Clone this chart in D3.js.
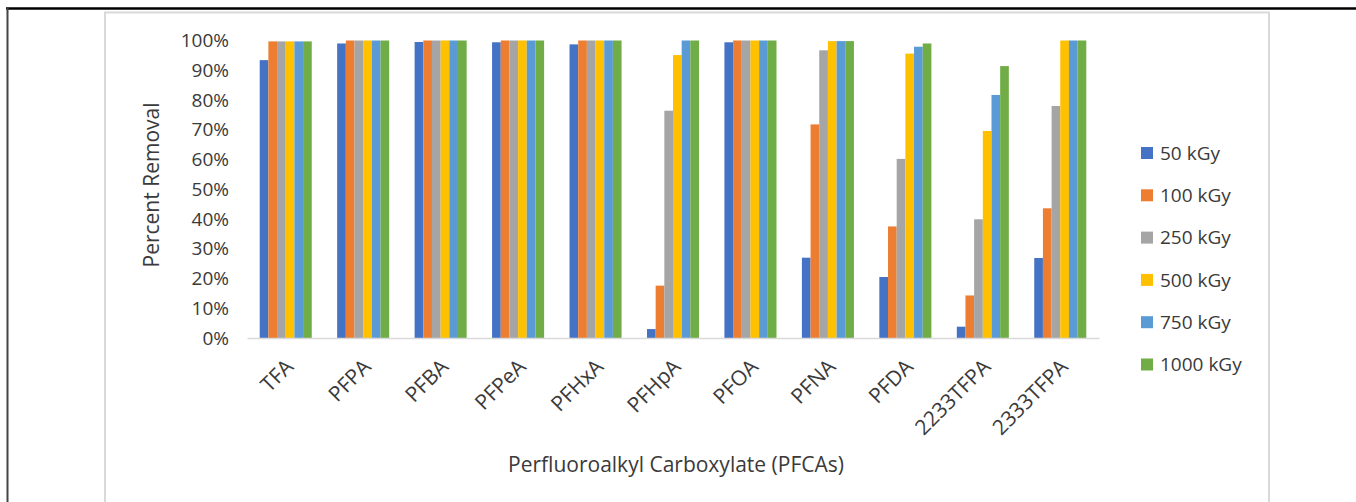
<!DOCTYPE html>
<html>
<head>
<meta charset="utf-8">
<script src="https://cdn.jsdelivr.net/npm/d3@7"></script>
<style>
  body { margin: 0; background: #fff; }
  svg { display: block; font-family: "Open Sans", sans-serif; }
</style>
</head>
<body>
<svg id="chart" width="1356" height="502"></svg>
<script>
// data (percent removal)
var categories = ["TFA", "PFPA", "PFBA", "PFPeA", "PFHxA", "PFHpA", "PFOA", "PFNA", "PFDA", "2233TFPA", "2333TFPA"];
var doses = ["50 kGy", "100 kGy", "250 kGy", "500 kGy", "750 kGy", "1000 kGy"];
var kGy50   = [93.4, 99.0, 99.5, 99.4, 98.7, 3.0, 99.4, 27.0, 20.5, 3.8, 26.9];
var kGy100  = [99.7, 100, 100, 100, 100, 17.6, 100, 71.8, 37.5, 14.3, 43.6];
var kGy250  = [99.7, 100, 100, 100, 100, 76.4, 100, 96.7, 60.2, 39.9, 78.0];
var kGy500  = [99.7, 100, 100, 100, 100, 95.1, 100, 99.8, 95.6, 69.6, 100];
var kGy750  = [99.7, 100, 100, 100, 100, 100, 100, 99.8, 97.9, 81.7, 100];
var kGy1000 = [99.7, 100, 100, 100, 100, 100, 100, 99.8, 99.0, 91.4, 100];
var yTicks = [0, 10, 20, 30, 40, 50, 60, 70, 80, 90, 100];

var series = [kGy50, kGy100, kGy250, kGy500, kGy750, kGy1000];
var colors = ["#4472C4", "#ED7D31", "#A5A5A5", "#FFC000", "#5B9BD5", "#70AD47"];

var svg = d3.select("#chart");

// outer frame (black) + chart area border (light gray)
svg.append("line").attr("x1", 6).attr("x2", 1356).attr("y1", 8.5).attr("y2", 8.5)
  .attr("stroke", "#000").attr("stroke-width", 2.5);
svg.append("line").attr("x1", 7.5).attr("x2", 7.5).attr("y1", 8).attr("y2", 502)
  .attr("stroke", "#444").attr("stroke-width", 2);
svg.append("rect").attr("x", 105).attr("y", 12.5).attr("width", 1164).attr("height", 520)
  .attr("fill", "none").attr("stroke", "#d9d9d9").attr("stroke-width", 2);

var x = d3.scaleBand()
  .domain(categories)
  .range([247, 1099])
  .paddingInner(0.328)
  .paddingOuter(0.164);

var xInner = d3.scaleBand()
  .domain(doses)
  .range([0, x.bandwidth()]);

var y = d3.scaleLinear()
  .domain([0, 100])
  .range([338, 40.5]);

var color = d3.scaleOrdinal().domain(doses).range(colors);

// bars
var groups = svg.selectAll(".series")
  .data(series)
  .enter()
  .append("g")
  .attr("class", "series")
  .attr("fill", function (d, i) { return color(doses[i]); });

groups.each(function (vals, si) {
  d3.select(this).selectAll("rect")
    .data(vals)
    .enter()
    .append("rect")
    .attr("x", function (d, ci) { return x(categories[ci]) + xInner(doses[si]); })
    .attr("y", function (d) { return y(d); })
    .attr("width", xInner.bandwidth())
    .attr("height", function (d) { return y(0) - y(d); });
});

// y axis
var yAxis = svg.append("g")
  .attr("transform", "translate(229,0)")
  .call(d3.axisLeft(y).tickValues(yTicks).tickSize(0).tickPadding(0)
    .tickFormat(function (d) { return d + "%"; }));
yAxis.select(".domain").remove();
yAxis.selectAll("text")
  .attr("font-size", 19)
  .attr("font-family", "Open Sans")
  .attr("fill", "#3a3a3a");

// x axis
var xAxis = svg.append("g")
  .attr("transform", "translate(0,338)")
  .call(d3.axisBottom(x).tickSize(0).tickPadding(0));
xAxis.select(".domain").attr("stroke", "#d9d9d9").attr("stroke-width", 1.5);
xAxis.selectAll("text")
  .attr("font-size", 21)
  .attr("font-family", "Open Sans")
  .attr("fill", "#3a3a3a")
  .attr("text-anchor", "end")
  .attr("dy", 0)
  .attr("transform", "translate(9,30) rotate(-45)");

// axis titles
svg.append("text")
  .attr("transform", "translate(159,185) rotate(-90)")
  .attr("text-anchor", "middle")
  .attr("font-size", 21)
  .attr("fill", "#3a3a3a")
  .text("Percent Removal");

svg.append("text")
  .attr("x", 676)
  .attr("y", 472)
  .attr("text-anchor", "middle")
  .attr("font-size", 21)
  .attr("fill", "#3a3a3a")
  .text("Perfluoroalkyl Carboxylate (PFCAs)");

// legend
var legend = svg.selectAll(".legend")
  .data(doses)
  .enter()
  .append("g")
  .attr("class", "legend")
  .attr("transform", function (d, i) { return "translate(1141," + (153 + i * 42.3) + ")"; });

legend.append("rect")
  .attr("x", 0).attr("y", -6)
  .attr("width", 12).attr("height", 12)
  .attr("fill", function (d) { return color(d); });

legend.append("text")
  .attr("x", 19)
  .attr("dy", "0.35em")
  .attr("font-size", 19)
  .attr("fill", "#3a3a3a")
  .text(function (d) { return d; });
</script>
</body>
</html>
